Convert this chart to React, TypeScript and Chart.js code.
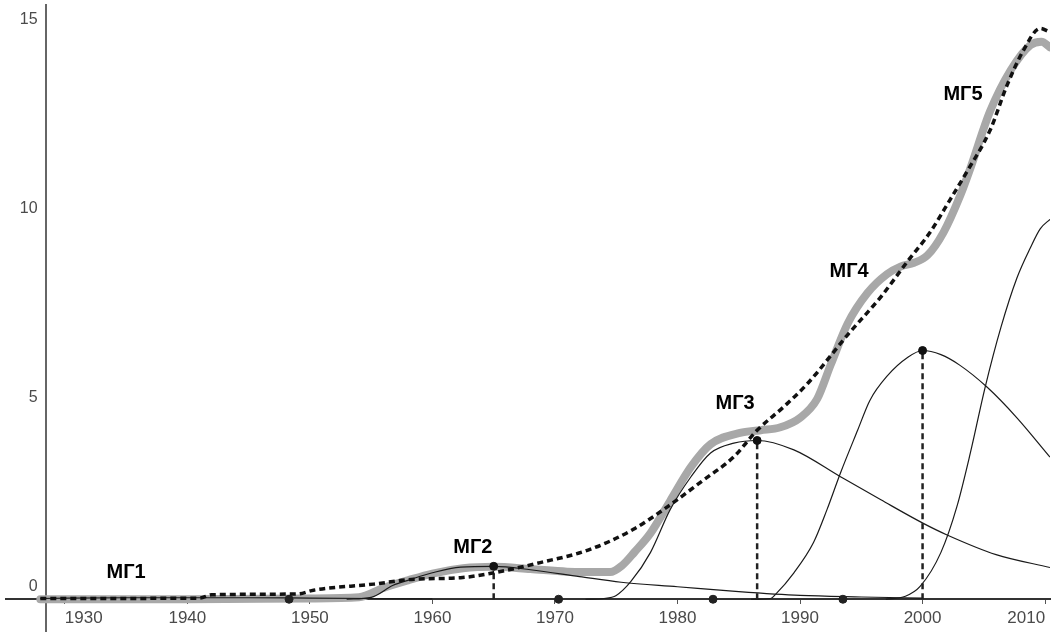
import React, { useEffect, useRef } from "react";
import { Chart, registerables } from "chart.js";

Chart.register(...registerables);

// ---- tick labels ----
const xTicks = [1930, 1940, 1950, 1960, 1970, 1980, 1990, 2000, 2010];
const yTicks = [0, 5, 10, 15];

// ---- gray thick line (sum of waves) ----
const sumYears = [1928, 1940, 1950, 1954, 1956, 1958, 1960, 1962.5, 1965, 1968, 1971, 1974.5, 1975.5, 1976.5, 1977.8, 1979.4, 1981.1, 1982.7, 1985.1, 1986.8, 1988.4, 1990, 1991.4, 1992.5, 1993.9, 1995.5, 1997.1, 1998.2, 1999.3, 2000.4, 2001.7, 2003.1, 2003.9, 2005.5, 2007.2, 2008.8, 2009.7, 2010.4];
const sumValues = [0, 0, 0.02, 0.05, 0.3, 0.5, 0.68, 0.82, 0.86, 0.8, 0.73, 0.72, 0.9, 1.25, 1.75, 2.6, 3.5, 4.1, 4.4, 4.47, 4.55, 4.8, 5.3, 6.2, 7.3, 8.1, 8.6, 8.8, 8.9, 9.1, 9.7, 10.7, 11.4, 12.9, 14.0, 14.66, 14.75, 14.6];

// ---- dashed trend line ----
const trendYears = [1928, 1941, 1942, 1949, 1950.3, 1955.2, 1958.5, 1962.3, 1965, 1968.8, 1972.7, 1976.4, 1979.2, 1981.9, 1984.6, 1986.5, 1988.7, 1990.6, 1993.9, 1996.6, 1998.8, 2000.6, 2002.3, 2003.6, 2005.5, 2006.9, 2008.2, 2009.6, 2010.4];
const trendValues = [0.02, 0.03, 0.12, 0.14, 0.24, 0.4, 0.53, 0.57, 0.7, 0.97, 1.3, 1.85, 2.45, 3.1, 3.77, 4.47, 5.1, 5.7, 7.0, 8.0, 8.95, 9.7, 10.6, 11.3, 12.4, 13.6, 14.5, 15.1, 15.0];

// ---- individual waves ----
const mg1Years = [1928, 1935, 1945, 1950, 1955, 1960];
const mg1Values = [0.02, 0.04, 0.04, 0.03, 0.02, 0.01];

const mg2Years = [1953, 1955, 1956.8, 1958, 1960, 1962.3, 1965, 1968, 1972, 1975.4, 1980, 1985, 1990, 1995, 2000];
const mg2Values = [0, 0.05, 0.37, 0.5, 0.7, 0.85, 0.87, 0.78, 0.6, 0.45, 0.33, 0.2, 0.1, 0.06, 0.03];

const mg3Years = [1972.5, 1974, 1975, 1976.2, 1977.8, 1979.4, 1981.1, 1982.7, 1984.6, 1986.5, 1989.5, 1993.3, 1996.6, 2000.1, 2002, 2006, 2010.4];
const mg3Values = [0, 0.02, 0.1, 0.47, 1.24, 2.37, 3.24, 3.87, 4.13, 4.2, 3.95, 3.24, 2.63, 2.0, 1.7, 1.18, 0.84];

const mg4Years = [1986, 1987.6, 1988, 1989.5, 1991.1, 1992.2, 1993.3, 1994.7, 1995.7, 1997.1, 1998.8, 2000, 2001.5, 2003, 2005.3, 2007.7, 2010.4];
const mg4Values = [0, 0.02, 0.13, 0.7, 1.5, 2.37, 3.34, 4.47, 5.26, 5.9, 6.4, 6.58, 6.47, 6.2, 5.6, 4.8, 3.76];

const mg5Years = [1997, 1998.6, 1999.8, 2001.5, 2002.8, 2003.9, 2005.1, 2006.4, 2007.7, 2008.8, 2009.6, 2010.4];
const mg5Values = [0, 0.08, 0.34, 1.24, 2.45, 3.87, 5.6, 7.2, 8.5, 9.3, 9.8, 10.05];

// ---- peaks (dots + vertical dashed drops) ----
const peakYears = [1965, 1986.5, 2000];
const peakValues = [0.87, 4.2, 6.58];

// ---- dots on the axis ----
const axisDotYears = [1948.3, 1970.3, 1982.9, 1993.5];

// ---- wave labels ----
const waveNames = ["МГ1", "МГ2", "МГ3", "МГ4", "МГ5"];
const waveLabelYears = [1935.0, 1963.3, 1984.7, 1994.0, 2003.3];
const waveLabelValues = [0.71, 1.37, 5.18, 8.68, 13.34];

const FONT = '"Liberation Sans", Arial, Helvetica, sans-serif';

const pts = (xs: number[], ys: number[]) => xs.map((x, i) => ({ x, y: ys[i] }));

const waveLabelPlugin = {
  id: "waveLabels",
  afterDatasetsDraw(chart: any) {
    const { ctx, scales } = chart;
    const xs = scales.x;
    const ys = scales.y;
    ctx.save();
    ctx.font = `bold 20px ${FONT}`;
    ctx.fillStyle = "#000";
    ctx.textAlign = "center";
    ctx.textBaseline = "middle";
    waveNames.forEach((t, i) => {
      ctx.fillText(t, xs.getPixelForValue(waveLabelYears[i]), ys.getPixelForValue(waveLabelValues[i]));
    });
    ctx.restore();
  },
};

export default function App() {
  const ref = useRef<HTMLCanvasElement | null>(null);

  useEffect(() => {
    if (!ref.current) return;
    const thin = (data: any[]) => ({
      data,
      borderColor: "#1a1a1a",
      borderWidth: 1.2,
      pointRadius: 0,
      fill: false,
      cubicInterpolationMode: "monotone" as const,
      order: 2,
    });

    const datasets: any[] = [
      {
        data: pts(trendYears, trendValues),
        borderColor: "#111",
        borderWidth: 3.5,
        borderDash: [6, 4],
        pointRadius: 0,
        cubicInterpolationMode: "monotone",
        order: 0,
      },
      {
        data: pts(peakYears, peakValues),
        showLine: false,
        pointRadius: 4,
        pointBackgroundColor: "#111",
        pointBorderColor: "#111",
        order: 0,
      },
      {
        data: pts(axisDotYears, axisDotYears.map(() => 0)),
        showLine: false,
        pointRadius: 4,
        pointBackgroundColor: "#222",
        pointBorderColor: "#222",
        order: 0,
      },
      ...peakYears.map((yr, i) => ({
        data: [
          { x: yr, y: 0 },
          { x: yr, y: peakValues[i] },
        ],
        borderColor: "#222",
        borderWidth: 2.5,
        borderDash: [6, 4],
        pointRadius: 0,
        order: 1,
      })),
      thin(pts(mg1Years, mg1Values)),
      thin(pts(mg2Years, mg2Values)),
      thin(pts(mg3Years, mg3Values)),
      thin(pts(mg4Years, mg4Values)),
      thin(pts(mg5Years, mg5Values)),
      {
        data: pts(sumYears, sumValues),
        borderColor: "#a8a8a8",
        borderWidth: 8,
        borderCapStyle: "round",
        borderJoinStyle: "round",
        pointRadius: 0,
        cubicInterpolationMode: "monotone",
        order: 3,
      },
    ];

    const chart = new Chart(ref.current, {
      type: "line",
      data: { datasets },
      plugins: [waveLabelPlugin],
      options: {
        animation: false,
        responsive: false,
        maintainAspectRatio: false,
        layout: { padding: { left: 6, right: 14, top: 0, bottom: 0 } },
        plugins: { legend: { display: false }, tooltip: { enabled: false } },
        scales: {
          x: {
            type: "linear",
            min: 1925.2,
            max: 2010.4,
            position: { y: 0 },
            afterBuildTicks: (s: any) => {
              s.ticks = xTicks.map((v) => ({ value: v }));
            },
            afterFit: (s: any) => {
              s.paddingLeft = 0;
              s.paddingRight = 0;
              s.paddingTop = 0;
              s.paddingBottom = 0;
            },
            ticks: {
              callback: (v: any) => String(v),
              color: "#4a4a4a",
              font: { family: FONT, size: 17 },
              padding: 5,
              maxRotation: 0,
              autoSkip: false,
              align: "inner",
            },
            grid: { drawOnChartArea: false, drawTicks: true, tickLength: 4, color: "#555" },
            border: { color: "#333", width: 2 },
          },
          y: {
            type: "linear",
            min: -0.84,
            max: 15.72,
            position: { x: 1928.5 },
            afterBuildTicks: (s: any) => {
              s.ticks = yTicks.map((v) => ({ value: v }));
            },
            afterFit: (s: any) => {
              s.paddingLeft = 0;
              s.paddingRight = 0;
              s.paddingTop = 0;
              s.paddingBottom = 0;
            },
            ticks: {
              callback: (v: any) => `${v}\u00a0\u00a0`,
              color: "#4a4a4a",
              font: { family: FONT, size: 16 },
              labelOffset: -13,
            },
            grid: { display: false },
            border: { color: "#666", width: 2 },
          },
        },
      },
    });
    return () => chart.destroy();
  }, []);

  return (
    <div style={{ position: "absolute", left: 0, top: 0, width: 1064, height: 636, background: "#fff" }}>
      <canvas ref={ref} width={1064} height={636} />
    </div>
  );
}
